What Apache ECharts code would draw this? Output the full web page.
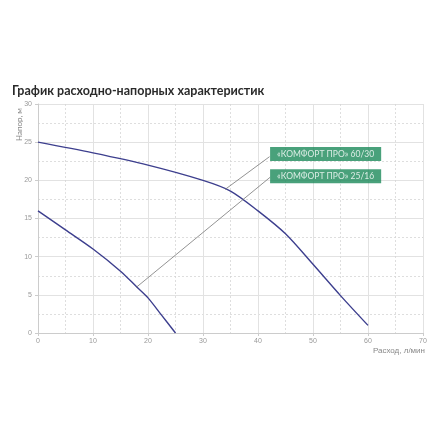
<!DOCTYPE html>
<html><head><meta charset="utf-8">
<script src="https://cdn.jsdelivr.net/npm/echarts@6/dist/echarts.min.js"></script>
<style>html,body{margin:0;padding:0;background:#fff}#c{width:440px;height:440px}</style>
</head><body><div id="c"></div>
<script>
const titleText = 'График расходно-напорных характеристик';
const xName = 'Расход, л/мин';
const yName = 'Напор, м';
const flow6030 = [0, 10, 20, 30, 35, 40, 45, 50, 55, 60];
const head6030 = [25, 23.6, 22.0, 20.0, 18.6, 16.0, 13.0, 9.0, 4.9, 1.0];
const flow2516 = [0, 5, 10, 15, 18, 20, 22.5, 25];
const head2516 = [16, 13.5, 11.0, 8.1, 6.0, 4.6, 2.3, 0];
const label6030 = '«КОМФОРТ ПРО» 60/30';
const label2516 = '«КОМФОРТ ПРО» 25/16';
const leader6030 = [[34, 18.8], [42.1, 23.1]];
const leader2516 = [[17.9, 6.0], [42.2, 20.4]];
const box6030 = [42.2, 23.45];
const box2516 = [42.2, 20.55];

const pairs = (xs, ys) => xs.map((x, i) => [x, ys[i]]);
const curveColor = '#3d3f8e';
const green = '#1b8a5a';
const boxLabel = (txt) => ({
  show: true, formatter: txt, position: 'right', distance: 0,
  backgroundColor: green, color: '#fff', fontSize: 8.5, fontFamily: 'Lato, "Noto Sans", sans-serif',
  lineHeight: 14, padding: [0, 7], verticalAlign: 'middle'
});
const chart = echarts.init(document.getElementById('c'));
chart.setOption({
  animation: false,
  title: { text: titleText, left: 7, top: 79,
    textStyle: { fontSize: 12.5, fontWeight: 'bold', color: '#2a2a2a', fontFamily: 'Lato, "Noto Sans", sans-serif' } },
  graphic: [{ type: 'text', x: 19, y: 108, rotation: Math.PI / 2,
    style: { text: yName, fontSize: 8, fill: '#888', align: 'right', verticalAlign: 'middle',
      fontFamily: 'Lato, "Noto Sans", sans-serif' } }],
  grid: { left: 38, right: 17, top: 104, bottom: 107 },
  xAxis: {
    type: 'value', min: 0, max: 70, interval: 10,
    name: xName, nameLocation: 'end', nameGap: 2,
    nameTextStyle: { align: 'right', verticalAlign: 'top', padding: [14, 0, 0, 0], fontSize: 8, color: '#888' },
    axisLine: { lineStyle: { color: '#ccc' } },
    axisTick: { show: true, length: 3, lineStyle: { color: '#ccc' } },
    axisLabel: { fontSize: 7, color: '#999', margin: 5 },
    splitLine: { lineStyle: { color: '#e2e2e2', width: 1 } },
    minorTick: { show: false, splitNumber: 2 },
    minorSplitLine: { show: true, lineStyle: { color: '#d6d6d6', type: [2, 2], width: 0.8 } }
  },
  yAxis: {
    type: 'value', min: 0, max: 30, interval: 5,
    axisLine: { show: true, lineStyle: { color: '#ccc' } },
    axisTick: { show: true, length: 3, lineStyle: { color: '#ccc' } },
    axisLabel: { fontSize: 7, color: '#999', margin: 6 },
    splitLine: { lineStyle: { color: '#e2e2e2', width: 1 } },
    minorTick: { show: false, splitNumber: 2 },
    minorSplitLine: { show: true, lineStyle: { color: '#d6d6d6', type: [2, 2], width: 0.8 } }
  },
  series: [
    { type: 'line', data: pairs(flow6030, head6030), smooth: 0.3, symbol: 'none',
      lineStyle: { color: curveColor, width: 1.4 } },
    { type: 'line', data: pairs(flow2516, head2516), smooth: 0.3, symbol: 'none',
      lineStyle: { color: curveColor, width: 1.4 } },
    { type: 'line', data: leader6030, symbol: 'none', lineStyle: { color: '#777', width: 0.8 } },
    { type: 'line', data: leader2516, symbol: 'none', lineStyle: { color: '#777', width: 0.8 } },
    { type: 'scatter', data: [box6030], symbolSize: 0, label: boxLabel(label6030), z: 10 },
    { type: 'scatter', data: [box2516], symbolSize: 0, label: boxLabel(label2516), z: 10 }
  ]
});
</script></body></html>
